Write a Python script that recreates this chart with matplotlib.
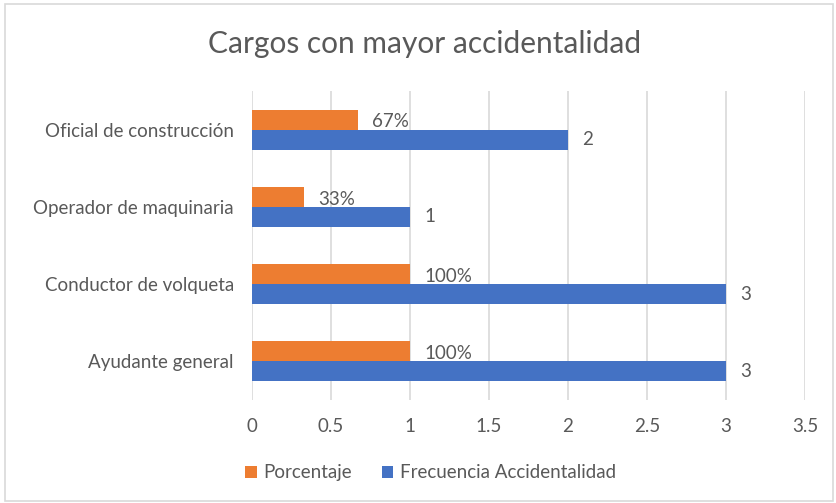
import matplotlib.pyplot as plt
import numpy as np
from matplotlib.patches import Rectangle

plt.rcParams["font.family"] = ["Lato", "DejaVu Sans"]

# data, bottom to top as in the chart
categorias = ["Ayudante general", "Conductor de volqueta",
              "Operador de maquinaria", "Oficial de construcción"]
porcentaje = [1.0, 1.0, 0.33, 0.67]
frecuencia = [3, 3, 1, 2]
etiquetas_pct = ["100%", "100%", "33%", "67%"]
ticks_x = [0, 0.5, 1, 1.5, 2, 2.5, 3, 3.5]

naranja = "#ED7D31"
azul = "#4472C4"
gris = "#595959"
fs = 13.5

fig = plt.figure(figsize=(8.36, 5.03), dpi=100)
fig.patches.append(Rectangle((0.006, 0.004), 0.99, 0.988, transform=fig.transFigure,
                             fill=False, edgecolor="#D9D9D9", linewidth=1.2))

ax = fig.add_axes([0.3014, 0.2048, 0.6616, 0.6143])

y = np.arange(len(categorias))
h = 0.26
ax.barh(y + h / 2, porcentaje, height=h, color=naranja, label="Porcentaje", zorder=3)
ax.barh(y - h / 2, frecuencia, height=h, color=azul, label="Frecuencia Accidentalidad", zorder=3)

for i in range(len(categorias)):
    ax.text(porcentaje[i] + 0.09, y[i] + h / 2 - 0.03, etiquetas_pct[i],
            va="center", ha="left", fontsize=fs, color=gris)
    ax.text(frecuencia[i] + 0.09, y[i] - h / 2, str(frecuencia[i]),
            va="center", ha="left", fontsize=fs, color=gris)

ax.set_xlim(0, 3.5)
ax.set_ylim(-0.5, 3.5)
ax.set_xticks(ticks_x)
ax.set_xticklabels([f"{t:g}" for t in ticks_x])
ax.set_yticks(y)
ax.set_yticklabels(categorias)
ax.tick_params(axis="both", length=0, labelsize=fs, labelcolor=gris)
ax.tick_params(axis="x", pad=13)
ax.tick_params(axis="y", pad=13)
ax.grid(axis="x", color="#D9D9D9", linewidth=1.2, zorder=0)
for s in ax.spines.values():
    s.set_visible(False)

fig.suptitle("Cargos con mayor accidentalidad", x=0.508, y=0.94,
             fontsize=21.5, color=gris)

fig.legend(loc="center", bbox_to_anchor=(0.515, 0.06), ncol=2, frameon=False,
           fontsize=fs, labelcolor=gris, handlelength=0.6, handleheight=0.6,
           handletextpad=0.35, columnspacing=1.6)

fig.savefig("out.png", dpi=100)
